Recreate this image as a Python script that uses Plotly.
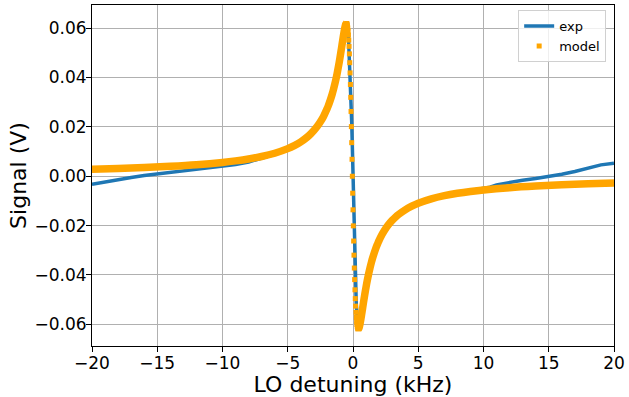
import plotly.graph_objects as go

# ---- data ----
exp_x = [-20, -19, -18, -17, -16, -15, -14, -13, -12, -11, -10, -9, -8, -7, -6,
         -5, -4.5, -4, -3.5, -3, -2.5, -2, -1.5, -1.0, -0.8, -0.6, -0.5,
         -0.35, -0.2, -0.1, -0.05, 0.0, 0.1, 0.25, 0.4,
         0.5, 0.6, 0.8, 1.0, 1.25, 1.5, 2, 2.5, 3, 3.5, 4, 5, 6, 7, 8, 9, 10,
         10.5, 11, 12, 13, 14, 15, 16, 17, 18, 19, 20]
exp_y = [-0.0033, -0.0023, -0.0013, -0.0005, 0.0003, 0.0009, 0.0015, 0.0020,
         0.0027, 0.0032, 0.0038, 0.0047, 0.0058, 0.0072, 0.0089,
         0.0112, 0.0127, 0.0143, 0.0163, 0.0189, 0.0225, 0.0276, 0.0353,
         0.0480, 0.0546, 0.0606, 0.0620,
         0.0570, 0.0400, 0.0220, 0.0120, 0.0000, -0.0260, -0.0520, -0.0620,
         -0.0607, -0.0580, -0.0512, -0.0449, -0.0383, -0.0331, -0.0258,
         -0.0210, -0.0177, -0.0152, -0.0133, -0.0106, -0.0087, -0.0075,
         -0.0064, -0.0058, -0.0051, -0.0044, -0.0035, -0.0024, -0.0016,
         -0.0009, -0.0002, 0.0008, 0.0019, 0.0034, 0.0046, 0.0053]

model_left_x = [-20, -18, -16, -14, -12, -10, -9, -8, -7, -6, -5, -4.5, -4, -3.5,
                -3.25, -3, -2.75, -2.5, -2.25, -2, -1.9, -1.75, -1.6, -1.5, -1.4,
                -1.3, -1.2, -1.1, -1.0, -0.95, -0.9, -0.85, -0.8, -0.75, -0.7,
                -0.65, -0.6, -0.55, -0.5]
model_left_y = [0.00280, 0.00311, 0.00350, 0.00400, 0.00466, 0.00560, 0.00622,
                0.00700, 0.00800, 0.00933, 0.01118, 0.01242, 0.01395, 0.01591,
                0.01710, 0.01850, 0.02011, 0.02205, 0.02435, 0.02720, 0.02848,
                0.03070, 0.03320, 0.03510, 0.03720, 0.03952, 0.04208, 0.04490,
                0.04797, 0.04960, 0.05128, 0.05299, 0.05471, 0.05640, 0.05803,
                0.05952, 0.06077, 0.06166, 0.06200]

model_mid_x = [-0.475, -0.45, -0.425, -0.4, -0.375, -0.35, -0.325, -0.3, -0.275,
               -0.25, -0.225, -0.2, -0.175, -0.15, -0.125, -0.1, -0.075, -0.05,
               -0.025, 0.0, 0.025, 0.05, 0.075, 0.1, 0.125, 0.15, 0.175, 0.2,
               0.225, 0.25, 0.275, 0.3, 0.325, 0.35, 0.375]
model_mid_y = [0.0619, 0.06157, 0.06098, 0.06009, 0.05886, 0.05723, 0.05517,
               0.05264, 0.0496, 0.04602, 0.04189, 0.0372, 0.03198, 0.02626,
               0.02011, 0.01361, 0.006868, 0.0, -0.006868, -0.01361, -0.02011,
               -0.02626, -0.03198, -0.0372, -0.04189, -0.04602, -0.0496,
               -0.05264, -0.05517, -0.05723, -0.05886, -0.06009, -0.06098,
               -0.06157, -0.0619]

model_right_x = [0.4, 0.45, 0.5, 0.55, 0.6, 0.65, 0.7, 0.75, 0.8, 0.85, 0.9,
                 1.0, 1.1, 1.2, 1.3, 1.4, 1.5, 1.75, 1.9, 2, 2.25, 2.5, 2.75,
                 3, 3.25, 3.5, 4, 4.5, 5, 6, 7, 8, 9, 10, 12, 14, 16, 18, 20]
model_right_y = [-0.06200, -0.06166, -0.06077, -0.05952, -0.05803, -0.05640,
                 -0.05471, -0.05299, -0.05128, -0.04960, -0.04797, -0.04490,
                 -0.04208, -0.03952, -0.03720, -0.03510, -0.03320, -0.02918,
                 -0.02720, -0.02597, -0.02337, -0.02122, -0.01943, -0.01790,
                 -0.01660, -0.01547, -0.01361, -0.01215, -0.01096, -0.00917,
                 -0.00788, -0.00691, -0.00615, -0.00554, -0.00462, -0.00397,
                 -0.00347, -0.00309, -0.00278]

x_ticks = [-20, -15, -10, -5, 0, 5, 10, 15, 20]
y_ticks = [-0.06, -0.04, -0.02, 0.0, 0.02, 0.04, 0.06]

BLUE = "#1f77b4"
ORANGE = "#ffa500"

fig = go.Figure()
fig.add_trace(go.Scatter(x=exp_x, y=exp_y, mode="lines", name="exp",
                         line=dict(color=BLUE, width=3.5)))
fig.add_trace(go.Scatter(x=model_mid_x, y=model_mid_y, mode="markers", name="model",
                         legendgroup="model",
                         marker=dict(color=ORANGE, symbol="square", size=5,
                                     line=dict(width=0))))
fig.add_trace(go.Scatter(x=model_left_x, y=model_left_y, mode="lines", name="model",
                         legendgroup="model", showlegend=False,
                         line=dict(color=ORANGE, width=7.5, shape="spline")))
fig.add_trace(go.Scatter(x=model_right_x, y=model_right_y, mode="lines", name="model",
                         legendgroup="model", showlegend=False,
                         line=dict(color=ORANGE, width=7.5, shape="spline")))

axis_common = dict(
    showline=True, linecolor="black", linewidth=1, mirror=True,
    showgrid=True, gridcolor="#b0b0b0", gridwidth=1,
    ticks="outside", ticklen=5, tickcolor="black", tickwidth=1,
    zeroline=False,
    tickfont=dict(family="DejaVu Sans", size=17, color="black"),
)

fig.update_layout(
    width=629, height=397,
    margin=dict(l=92, r=11, t=4, b=51),
    paper_bgcolor="white", plot_bgcolor="white",
    font=dict(family="DejaVu Sans", color="black"),
    showlegend=True,
    legend=dict(x=0.985, y=0.985, xanchor="right", yanchor="top",
                bgcolor="rgba(255,255,255,0.8)", bordercolor="#d0d0d0",
                borderwidth=1, font=dict(family="DejaVu Sans", size=13),
                itemwidth=30, tracegroupgap=0),
    xaxis=dict(range=[-20, 20], tickvals=x_ticks, ticklabeloverflow="allow",
               ticklabelstandoff=-3,
               title=dict(text="LO detuning (kHz)", standoff=2,
                          font=dict(family="DejaVu Sans", size=22)),
               **axis_common),
    yaxis=dict(range=[-0.0688, 0.0694], tickvals=y_ticks, tickformat=".2f",
               ticklabelstandoff=-4,
               title=dict(text="Signal (V)", standoff=1,
                          font=dict(family="DejaVu Sans", size=22)),
               **axis_common),
)

fig.write_html("out.html")
